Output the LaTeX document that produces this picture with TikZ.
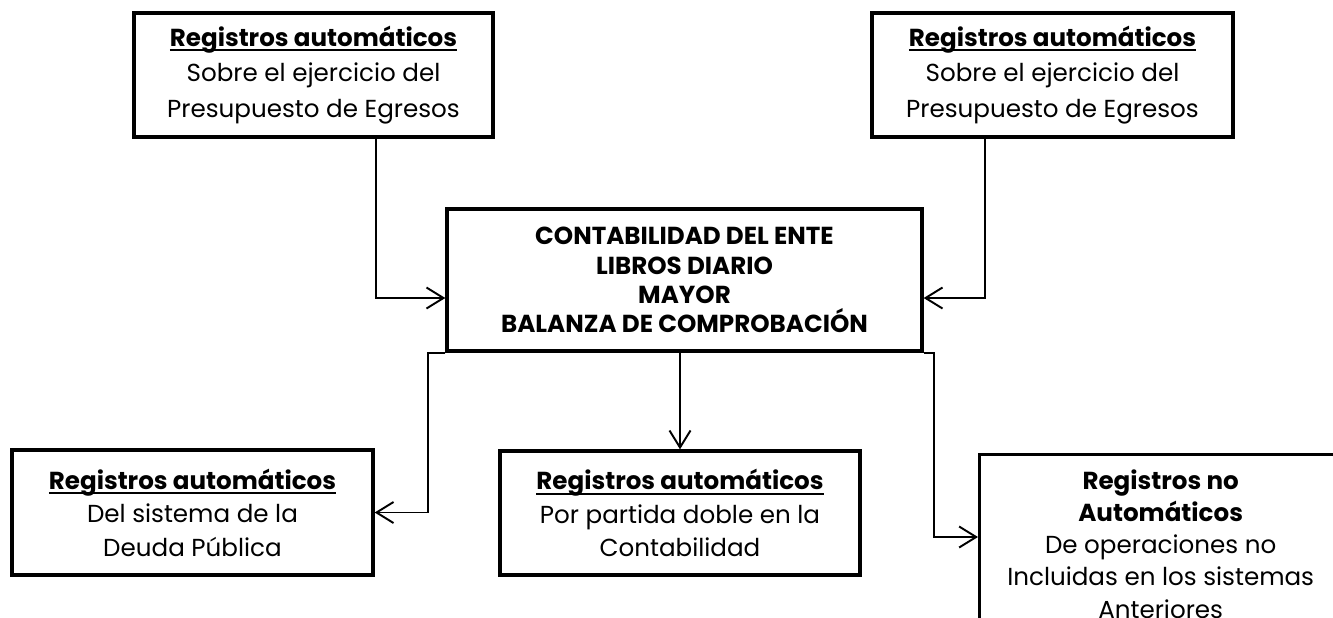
\documentclass[tikz,border=0pt]{standalone}
\usepackage{fontspec}
\setmainfont{Poppins}
\usetikzlibrary{arrows.meta,calc}
\newsavebox{\cajasub}
\newcommand{\subraya}[1]{\sbox{\cajasub}{#1}\rlap{\rule[-2.9pt]{\wd\cajasub}{1.1pt}}\usebox{\cajasub}}

\begin{document}
\begin{tikzpicture}[
  caja/.style={draw, line width=1.9pt, align=center, inner sep=0pt},
  flecha/.style={line width=1.1pt, -{Straight Barb[length=3.4mm,width=4.2mm,line width=1.1pt]}}]
  \useasboundingbox (0,0) rectangle (26.66,-12.34);
  \clip (0,0) rectangle (26.66,-12.34);

  \node[caja, minimum width=7.18cm, minimum height=2.48cm, font=\fontsize{14}{20.4}\selectfont] (regIzq) at (6.27,-1.5)
    {\subraya{\textbf{Registros automáticos}}\\Sobre el ejercicio del\\Presupuesto de Egresos};
  \node[caja, minimum width=7.22cm, minimum height=2.48cm, font=\fontsize{14}{20.4}\selectfont] (regDer) at (21.05,-1.5)
    {\subraya{\textbf{Registros automáticos}}\\Sobre el ejercicio del\\Presupuesto de Egresos};

  \node[caja, minimum width=9.5cm, minimum height=2.84cm, font=\bfseries\fontsize{14}{16.7}\selectfont] (conta) at (13.69,-5.6)
    {CONTABILIDAD DEL ENTE\\LIBROS DIARIO\\MAYOR\\BALANZA DE COMPROBACIÓN};

  \node[caja, minimum width=7.22cm, minimum height=2.5cm, font=\fontsize{14}{19}\selectfont] (deuda) at (3.85,-10.25)
    {\subraya{\textbf{Registros automáticos}}\\Del sistema de la\\Deuda Pública};
  \node[caja, minimum width=7.2cm, minimum height=2.48cm, font=\fontsize{14}{19}\selectfont] (partida) at (13.6,-10.26)
    {\subraya{\textbf{Registros automáticos}}\\Por partida doble en la\\Contabilidad};
  \node[caja, anchor=north west, minimum width=7.24cm, inner ysep=0.3cm, font=\fontsize{14}{18.3}\selectfont] (noAuto) at (19.56,-9.06)
    {\textbf{Registros no}\\\textbf{Automáticos}\\De operaciones no\\Incluidas en los sistemas\\Anteriores};

  \draw[flecha] ([xshift=1.25cm]regIzq.south) |- ([yshift=-0.36cm]conta.west);
  \draw[flecha] ([xshift=-1.35cm]regDer.south) |- ([yshift=-0.36cm]conta.east);
  \draw[flecha] (conta.south west) -- ++(-0.34,0) |- (deuda.east);
  \draw[flecha] (conta.south -| partida.north) -- (partida.north);
  \draw[flecha] (conta.south east) -- ++(0.2,0) |- ($(noAuto.north west)+(0,-1.68)$);
\end{tikzpicture}
\end{document}
